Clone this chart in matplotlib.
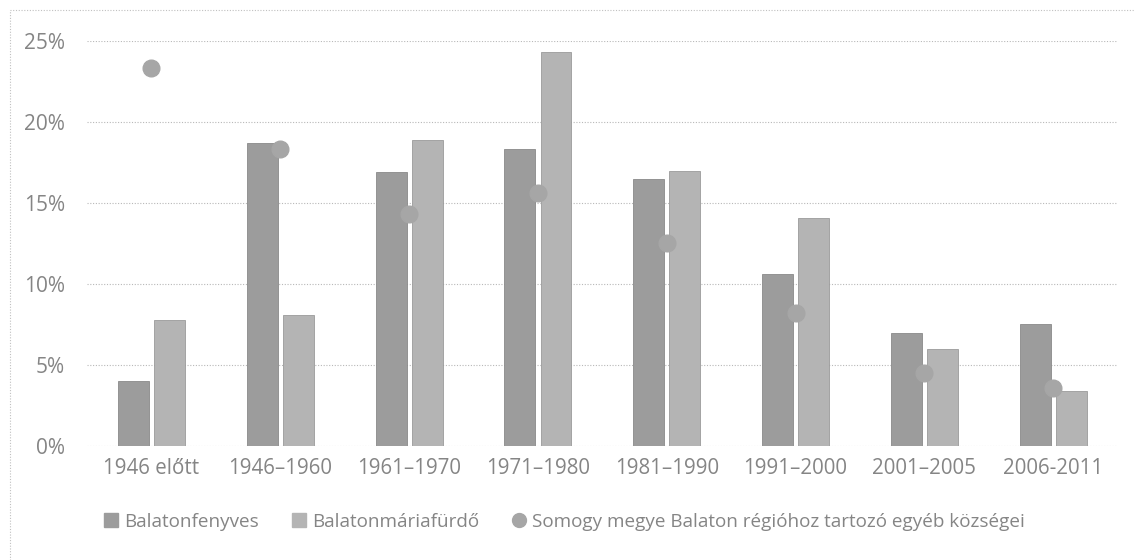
import matplotlib
matplotlib.use("Agg")
import matplotlib.pyplot as plt
import numpy as np
from matplotlib.lines import Line2D
from matplotlib.patches import Rectangle

categories = ["1946 előtt", "1946–1960", "1961–1970", "1971–1980",
              "1981–1990", "1991–2000", "2001–2005", "2006-2011"]
balatonfenyves = [4.0, 18.7, 16.9, 18.3, 16.5, 10.6, 7.0, 7.5]
balatonmariafurdo = [7.8, 8.1, 18.9, 24.3, 17.0, 14.1, 6.0, 3.4]
somogy_egyeb = [23.3, 18.3, 14.3, 15.6, 12.5, 8.2, 4.5, 3.6]
series_names = ["Balatonfenyves", "Balatonmáriafürdő",
                "Somogy megye Balaton régióhoz tartozó egyéb községei"]
yticks = [0, 5, 10, 15, 20, 25]

plt.rcParams['font.family'] = ['Open Sans', 'DejaVu Sans']

fig = plt.figure(figsize=(11.35, 5.6), dpi=100)
ax = fig.add_axes([0.0767, 0.2036, 0.908, 0.7234])

x = np.arange(len(categories))
w = 0.24
off = 0.14
c1 = '#9c9c9c'
c2 = '#b4b4b4'
c3 = '#a6a6a6'
ax.bar(x - off, balatonfenyves, w, color=c1, edgecolor='#8a8a8a', linewidth=0.6, zorder=2)
ax.bar(x + off, balatonmariafurdo, w, color=c2, edgecolor='#9a9a9a', linewidth=0.6, zorder=2)
ax.plot(x, somogy_egyeb, linestyle='none', marker='o', markersize=12,
        color=c3, markeredgecolor=c3, zorder=3)

ax.set_xlim(-0.5, len(categories) - 0.5)
ax.set_ylim(0, 25)
ax.set_yticks(yticks)
ax.set_yticklabels([f"{t}%" for t in yticks])
ax.set_xticks(x)
ax.set_xticklabels(categories)
ax.tick_params(axis='both', length=0, colors='#858585')
ax.tick_params(axis='y', pad=16, labelsize=15)
ax.tick_params(axis='x', pad=9, labelsize=14.8)
ax.yaxis.grid(True, linestyle=(0, (1, 1.5)), color='#b8b8b8', linewidth=0.8, zorder=0)
ax.set_axisbelow(True)
for s in ax.spines.values():
    s.set_visible(False)

handles = [Line2D([], [], linestyle='none', marker='s', markersize=10, color=c1),
           Line2D([], [], linestyle='none', marker='s', markersize=10, color=c2),
           Line2D([], [], linestyle='none', marker='o', markersize=10, color=c3)]
leg = fig.legend(handles, series_names, loc='center', bbox_to_anchor=(0.497, 0.068),
                 ncol=3, frameon=False, fontsize=13.6, handletextpad=0.3,
                 handlelength=0.8, columnspacing=1.7, labelcolor='#858585')

fig.patches.append(Rectangle((0.009, -0.01), 1.2, 0.992, transform=fig.transFigure,
                             fill=False, edgecolor='#c0c0c0', linewidth=0.8,
                             linestyle=(0, (1, 1.5))))

fig.savefig("out.png", dpi=100)
